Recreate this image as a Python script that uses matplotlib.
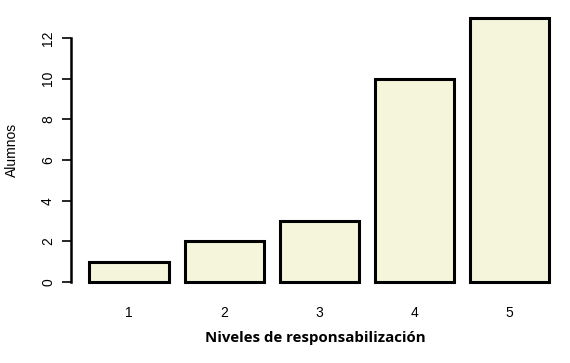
import matplotlib
matplotlib.use("Agg")
import matplotlib.pyplot as plt

categories = ["1", "2", "3", "4", "5"]
values = [1, 2, 3, 10, 13]
yticks = [0, 2, 4, 6, 8, 10, 12]

fig = plt.figure(figsize=(5.7, 3.63), dpi=100)
ax = fig.add_axes([0.1246, 0.1939, 0.871, 0.7865])

# R barplot-like positions: width 1, space 0.2
lefts = [0.2 + 1.2 * i for i in range(len(values))]
centers = [l + 0.5 for l in lefts]
ax.bar(centers, values, width=1.0, color="#F5F5DC", edgecolor="black", linewidth=2.2)

ax.set_xlim(-0.032, 6.232)
ax.set_ylim(-0.52, 13.52)

for s in ["top", "right", "bottom"]:
    ax.spines[s].set_visible(False)
ax.spines["left"].set_bounds(0, 12)
ax.spines["left"].set_linewidth(1.8)

ax.set_yticks(yticks)
ax.set_yticklabels([str(t) for t in yticks], rotation=90, va="center",
                   family="Liberation Sans", fontsize=10)
ax.tick_params(axis="y", length=6.5, width=1.2, pad=5)

ax.set_xticks(centers)
ax.set_xticklabels(categories, family="Liberation Sans", fontsize=10)
ax.tick_params(axis="x", length=0, pad=9.5)

ax.set_ylabel("Alumnos", family="Liberation Sans", fontsize=10, labelpad=16)
ax.set_xlabel("Niveles de responsabilización", family="Open Sans",
              fontweight="bold", fontsize=10.8, labelpad=8)
ax.xaxis.set_label_coords(0.492, -0.16)
ax.xaxis.label.set_va("center")

fig.savefig("out.png", dpi=100)
